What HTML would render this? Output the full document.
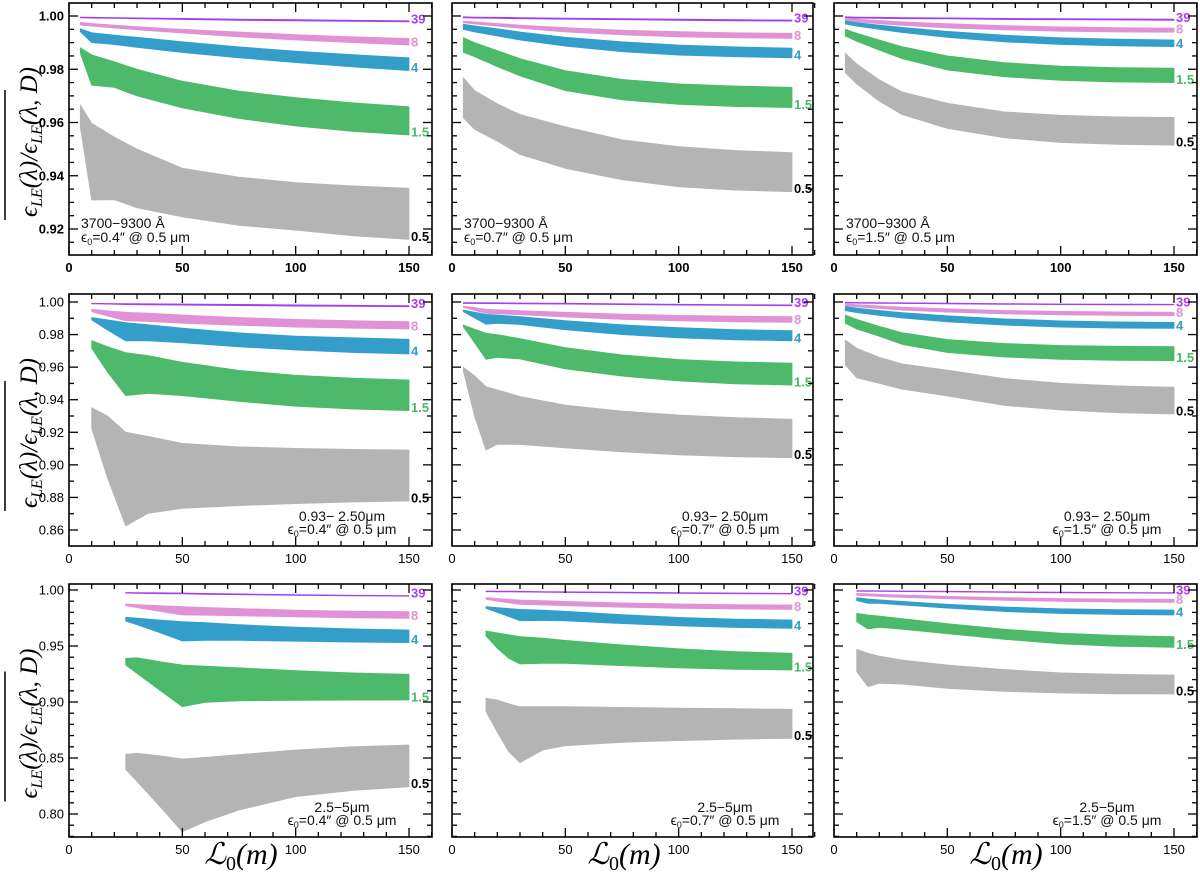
<!DOCTYPE html>
<html><head><meta charset="utf-8"><style>
html,body{margin:0;padding:0;background:#fff;}
svg{display:block;}
</style></head><body>
<svg id="fig" width="1200" height="879" viewBox="0 0 1200 879" xmlns="http://www.w3.org/2000/svg"></svg>
<script>
// ---- data: x positions (L0 in m) per panel, and band upper/lower values per series [39,8,4,1.5,0.5]
const seriesNames = ["39","8","4","1.5","0.5"];
const seriesColors = ["#a23ff0","#e192d6","#339ec9","#4cb96b","#b4b4b4"];
const labelColors = ["#a23ff0","#e192d6","#339ec9","#4cb96b","#000000"];

const p11x = [5,10,20,30,50,75,100,125,150];
const p11hi = [[0.9996,0.9995,0.9994,0.9993,0.9991,0.9988,0.9986,0.9984,0.9982],[0.9976,0.9972,0.9966,0.9960,0.9950,0.9940,0.9930,0.9922,0.9916],[0.9952,0.9937,0.9928,0.9920,0.9903,0.9884,0.9868,0.9855,0.9843],[0.9881,0.9854,0.9828,0.9800,0.9755,0.9718,0.9693,0.9674,0.9659],[0.9666,0.9597,0.9545,0.9500,0.9428,0.9395,0.9374,0.9362,0.9353]];
const p11lo = [[0.9993,0.9992,0.9991,0.9990,0.9987,0.9984,0.9982,0.9980,0.9978],[0.9966,0.9962,0.9955,0.9948,0.9936,0.9922,0.9910,0.9900,0.9891],[0.9941,0.9900,0.9893,0.9882,0.9863,0.9843,0.9825,0.9809,0.9795],[0.9860,0.9740,0.9732,0.9700,0.9655,0.9615,0.9587,0.9567,0.9553],[0.9584,0.9309,0.9310,0.9280,0.9246,0.9214,0.9196,0.9175,0.9161]];

const p12x = [5,10,20,30,50,75,100,125,150];
const p12hi = [[0.9997,0.9996,0.9995,0.9994,0.9992,0.9990,0.9988,0.9986,0.9985],[0.9981,0.9978,0.9972,0.9966,0.9956,0.9947,0.9941,0.9937,0.9935],[0.9969,0.9963,0.9952,0.9940,0.9920,0.9903,0.9891,0.9884,0.9879],[0.9919,0.9900,0.9870,0.9840,0.9795,0.9762,0.9745,0.9737,0.9732],[0.9768,0.9720,0.9670,0.9630,0.9584,0.9535,0.9509,0.9495,0.9487]];
const p12lo = [[0.9993,0.9992,0.9991,0.9990,0.9988,0.9986,0.9984,0.9982,0.9981],[0.9975,0.9970,0.9962,0.9954,0.9940,0.9929,0.9922,0.9918,0.9916],[0.9950,0.9940,0.9925,0.9910,0.9887,0.9866,0.9853,0.9847,0.9843],[0.9864,0.9847,0.9810,0.9775,0.9720,0.9685,0.9668,0.9660,0.9656],[0.9618,0.9574,0.9530,0.9480,0.9428,0.9385,0.9359,0.9346,0.9340]];

const p13x = [5,10,20,30,50,75,100,125,150];
const p13hi = [[0.9997,0.9996,0.9995,0.9994,0.9993,0.9991,0.9990,0.9989,0.9988],[0.9991,0.9988,0.9983,0.9978,0.9971,0.9964,0.9959,0.9956,0.9954],[0.9981,0.9975,0.9966,0.9957,0.9942,0.9928,0.9918,0.9913,0.9910],[0.9950,0.9935,0.9910,0.9885,0.9850,0.9825,0.9812,0.9806,0.9804],[0.9860,0.9820,0.9760,0.9715,0.9672,0.9640,0.9627,0.9621,0.9619]];
const p13lo = [[0.9993,0.9992,0.9991,0.9990,0.9989,0.9987,0.9986,0.9985,0.9984],[0.9982,0.9978,0.9971,0.9965,0.9955,0.9948,0.9943,0.9940,0.9939],[0.9970,0.9962,0.9950,0.9938,0.9920,0.9903,0.9893,0.9888,0.9885],[0.9925,0.9905,0.9872,0.9840,0.9797,0.9772,0.9758,0.9752,0.9750],[0.9787,0.9745,0.9680,0.9630,0.9578,0.9543,0.9525,0.9518,0.9515]];

const p21x = [10,17,25,35,50,75,100,125,150];
const p21hi = [[0.9992,0.9991,0.9990,0.9989,0.9988,0.9985,0.9982,0.9980,0.9977],[0.9955,0.9946,0.9937,0.9932,0.9920,0.9905,0.9893,0.9885,0.9879],[0.9904,0.9890,0.9873,0.9860,0.9840,0.9810,0.9790,0.9780,0.9771],[0.9763,0.9726,0.9689,0.9670,0.9630,0.9580,0.9550,0.9533,0.9521],[0.9351,0.9300,0.9200,0.9175,0.9132,0.9110,0.9101,0.9095,0.9091]];
const p21lo = [[0.9989,0.9987,0.9984,0.9983,0.9981,0.9978,0.9975,0.9973,0.9971],[0.9941,0.9914,0.9885,0.9880,0.9870,0.9857,0.9846,0.9839,0.9834],[0.9890,0.9828,0.9761,0.9762,0.9750,0.9725,0.9705,0.9690,0.9681],[0.9716,0.9570,0.9425,0.9439,0.9425,0.9390,0.9360,0.9343,0.9333],[0.9224,0.8920,0.8625,0.8703,0.8733,0.8750,0.8762,0.8772,0.8778]];

const p22x = [5,10,15,20,30,50,75,100,125,150];
const p22hi = [[0.9996,0.9996,0.9995,0.9995,0.9994,0.9992,0.9989,0.9986,0.9984,0.9982],[0.9975,0.9965,0.9955,0.9952,0.9947,0.9937,0.9926,0.9918,0.9913,0.9910],[0.9951,0.9937,0.9924,0.9920,0.9910,0.9885,0.9860,0.9842,0.9830,0.9824],[0.9859,0.9833,0.9808,0.9800,0.9775,0.9720,0.9675,0.9647,0.9632,0.9624],[0.9599,0.9546,0.9480,0.9460,0.9420,0.9367,0.9330,0.9306,0.9290,0.9280]];
const p22lo = [[0.9991,0.9991,0.9990,0.9990,0.9989,0.9987,0.9984,0.9981,0.9979,0.9977],[0.9967,0.9948,0.9930,0.9928,0.9922,0.9908,0.9893,0.9884,0.9878,0.9875],[0.9941,0.9902,0.9863,0.9869,0.9862,0.9830,0.9800,0.9780,0.9768,0.9762],[0.9848,0.9748,0.9648,0.9660,0.9650,0.9590,0.9545,0.9515,0.9498,0.9490],[0.9578,0.9296,0.9091,0.9126,0.9125,0.9105,0.9080,0.9062,0.9050,0.9044]];

const p23x = [5,10,20,30,50,75,100,125,150];
const p23hi = [[0.9998,0.9997,0.9996,0.9995,0.9993,0.9990,0.9988,0.9987,0.9986],[0.9988,0.9984,0.9976,0.9968,0.9958,0.9948,0.9942,0.9939,0.9937],[0.9971,0.9962,0.9948,0.9935,0.9915,0.9896,0.9884,0.9878,0.9875],[0.9920,0.9893,0.9850,0.9812,0.9770,0.9745,0.9733,0.9728,0.9726],[0.9767,0.9716,0.9660,0.9620,0.9582,0.9530,0.9501,0.9485,0.9476]];
const p23lo = [[0.9994,0.9993,0.9992,0.9991,0.9989,0.9986,0.9984,0.9983,0.9982],[0.9975,0.9970,0.9960,0.9950,0.9938,0.9927,0.9921,0.9918,0.9916],[0.9947,0.9935,0.9918,0.9902,0.9878,0.9858,0.9846,0.9840,0.9838],[0.9869,0.9834,0.9790,0.9740,0.9690,0.9662,0.9648,0.9642,0.9640],[0.9613,0.9535,0.9500,0.9465,0.9423,0.9365,0.9337,0.9320,0.9312]];

const p31x = [25,30,40,50,60,75,100,125,150];
const p31hi = [[0.9978,0.9977,0.9975,0.9973,0.9970,0.9965,0.9958,0.9953,0.9950],[0.9875,0.9870,0.9860,0.9851,0.9845,0.9835,0.9820,0.9811,0.9806],[0.9756,0.9748,0.9732,0.9717,0.9708,0.9690,0.9668,0.9653,0.9643],[0.9390,0.9395,0.9360,0.9330,0.9320,0.9305,0.9280,0.9260,0.9247],[0.8533,0.8542,0.8520,0.8491,0.8505,0.8530,0.8571,0.8600,0.8616]];
const p31lo = [[0.9972,0.9970,0.9967,0.9965,0.9962,0.9958,0.9952,0.9948,0.9945],[0.9860,0.9843,0.9810,0.9777,0.9775,0.9770,0.9760,0.9752,0.9747],[0.9723,0.9690,0.9620,0.9545,0.9550,0.9550,0.9543,0.9535,0.9530],[0.9330,0.9255,0.9105,0.8958,0.8997,0.9010,0.9015,0.9017,0.9018],[0.8399,0.8290,0.8070,0.7842,0.7930,0.8036,0.8155,0.8210,0.8244]];

const p32x = [15,20,25,30,40,50,75,100,125,150];
const p32hi = [[0.9991,0.9990,0.9989,0.9988,0.9986,0.9984,0.9980,0.9976,0.9973,0.9970],[0.9931,0.9924,0.9917,0.9911,0.9905,0.9898,0.9885,0.9876,0.9870,0.9866],[0.9851,0.9843,0.9835,0.9827,0.9820,0.9810,0.9780,0.9755,0.9740,0.9732],[0.9634,0.9617,0.9600,0.9583,0.9570,0.9550,0.9510,0.9475,0.9450,0.9435],[0.9033,0.9018,0.8985,0.8958,0.8958,0.8958,0.8952,0.8945,0.8940,0.8935]];
const p32lo = [[0.9985,0.9984,0.9983,0.9982,0.9980,0.9978,0.9974,0.9970,0.9967,0.9964],[0.9917,0.9900,0.9886,0.9872,0.9866,0.9860,0.9846,0.9836,0.9830,0.9827],[0.9836,0.9800,0.9763,0.9726,0.9728,0.9725,0.9700,0.9680,0.9665,0.9658],[0.9589,0.9480,0.9390,0.9339,0.9345,0.9345,0.9325,0.9305,0.9292,0.9286],[0.8914,0.8730,0.8556,0.8458,0.8571,0.8610,0.8640,0.8655,0.8668,0.8676]];

const p33x = [10,15,20,30,50,75,100,125,150];
const p33hi = [[0.9994,0.9993,0.9993,0.9991,0.9988,0.9984,0.9980,0.9978,0.9976],[0.9970,0.9966,0.9962,0.9955,0.9944,0.9932,0.9924,0.9919,0.9917],[0.9931,0.9920,0.9912,0.9898,0.9872,0.9848,0.9832,0.9825,0.9821],[0.9792,0.9777,0.9768,0.9745,0.9700,0.9650,0.9615,0.9595,0.9583],[0.9470,0.9435,0.9410,0.9375,0.9330,0.9290,0.9260,0.9247,0.9241]];
const p33lo = [[0.9989,0.9988,0.9988,0.9986,0.9983,0.9979,0.9975,0.9973,0.9971],[0.9952,0.9947,0.9942,0.9935,0.9922,0.9907,0.9898,0.9892,0.9890],[0.9905,0.9881,0.9880,0.9866,0.9838,0.9808,0.9790,0.9781,0.9777],[0.9717,0.9652,0.9667,0.9650,0.9610,0.9560,0.9520,0.9497,0.9488],[0.9271,0.9137,0.9167,0.9160,0.9122,0.9095,0.9080,0.9073,0.9071]];

const rowYTicks = [[0.92,0.94,0.96,0.98,1.00],[0.86,0.88,0.90,0.92,0.94,0.96,0.98,1.00],[0.80,0.85,0.90,0.95,1.00]];
const rowYMinor = [0.005,0.01,0.01];
const xTicks = [0,50,100,150];
const seeingLabels = ["0.4","0.7","1.5"];
const bandLabels = ["3700\u22129300 \u00c5","0.93\u2212  2.50\u03bcm","2.5\u22125\u03bcm"];

// ---- layout
const NS = "http://www.w3.org/2000/svg";
const svg = document.getElementById("fig");
const cols = [{l:69,r:432},{l:452,r:813},{l:834,r:1197}];
const rows = [{t:3,b:255,y1:16,ppu:2662.5},{t:294,b:546,y1:302,ppu:1628.6},{t:584,b:837,y1:590,ppu:1120}];
const XPPU = 340/150;
const panels = [
 [[p11x,p11hi,p11lo],[p12x,p12hi,p12lo],[p13x,p13hi,p13lo]],
 [[p21x,p21hi,p21lo],[p22x,p22hi,p22lo],[p23x,p23hi,p23lo]],
 [[p31x,p31hi,p31lo],[p32x,p32hi,p32lo],[p33x,p33hi,p33lo]]
];
function el(tag, attrs, parent){
  const e = document.createElementNS(NS, tag);
  for (const k in attrs) e.setAttribute(k, attrs[k]);
  (parent||svg).appendChild(e);
  return e;
}
for (let r=0;r<3;r++){
  const R = rows[r];
  const sy = v => R.y1 + (1-v)*R.ppu;
  const yMin = 1 - (R.b - R.y1)/R.ppu, yMax = 1 + (R.y1 - R.t)/R.ppu;
  for (let c=0;c<3;c++){
    const C = cols[c];
    const sx = v => C.l + v*XPPU;
    const g = el("g",{});
    
    
    const [xs, hi, lo] = panels[r][c];
    for (let s=0;s<5;s++){
      let d = "";
      for (let i=0;i<xs.length;i++) d += (i?"L":"M") + sx(xs[i]).toFixed(1)+","+sy(hi[s][i]).toFixed(1);
      for (let i=xs.length-1;i>=0;i--) d += "L" + sx(xs[i]).toFixed(1)+","+sy(lo[s][i]).toFixed(1);
      d += "Z";
      const p = el("path",{d:d, fill:seriesColors[s], stroke:seriesColors[s], "stroke-width":"0.8","stroke-linejoin":"round"}, g);
      
      
      const n = xs.length-1;
      const t = el("text",{x:C.l+342, y:(sy(lo[s][n])-3+4.5).toFixed(1), fill:labelColors[s], "font-family":"Liberation Sans, sans-serif", "font-size":"13", "font-weight":"bold"}, g);
      t.textContent = seriesNames[s];
      
      
    }
    // ticks
    const tk = el("g",{stroke:"#000","stroke-width":"1.3"}, g);
    
    
    for (let v=0; v<=160; v+=10){
      const x = sx(v), L = (v%50===0)?9:5;
      el("line",{x1:x,y1:R.b,x2:x,y2:R.b-L},tk);
      el("line",{x1:x,y1:R.t,x2:x,y2:R.t+L},tk);
    }
    const step = rowYMinor[r];
    for (let k=Math.ceil(yMin/step); k*step<=yMax+1e-9; k++){
      const v = k*step, y = sy(v);
      const major = rowYTicks[r].some(m=>Math.abs(m-v)<1e-6);
      const L = major?9:5;
      el("line",{x1:C.l,y1:y,x2:C.l+L,y2:y},tk);
      el("line",{x1:C.r,y1:y,x2:C.r-L,y2:y},tk);
    }
    const fr = el("rect",{x:C.l,y:R.t,width:C.r-C.l,height:R.b-R.t,fill:"none",stroke:"#000","stroke-width":"1.6"}, g);
    
    
    // x tick labels
    for (const v of xTicks){
      const t = el("text",{x:sx(v),y:R.b+17,"text-anchor":"middle","font-family":"Liberation Sans, sans-serif","font-size":"13","font-weight":r===0?"bold":"normal"}, g);
      t.textContent = v;
      
      
    }
    if (c===0){
      for (const v of rowYTicks[r]){
        const t = el("text",{x:C.l-5,y:sy(v)+4.5,"text-anchor":"end","font-family":"Liberation Sans, sans-serif","font-size":"13","font-weight":r===0?"bold":"normal"}, g);
        t.textContent = v.toFixed(2);
        
        
      }
    }
    // annotation
    const ann = el("g",{"font-family":"Liberation Sans, sans-serif","font-size":"14",fill:"#111"}, g);
    
    
    let ax, ay1, ay2, anc;
    if (r===0){ ax=C.l+12; ay1=228; ay2=242; anc="start"; }
    else { ax=C.l+273; anc="middle"; ay1 = r===1?521:812; ay2 = ay1+13; }
    const a1 = el("text",{x:ax,y:ay1,"text-anchor":anc}, ann);
    a1.textContent = bandLabels[r];
    const a2 = el("text",{x:ax,y:ay2,"text-anchor":anc}, ann);
    a2.innerHTML = '\u03f5<tspan font-size="9" dy="3">0</tspan><tspan dy="-3">=' + seeingLabels[c] + '\u2033 @ 0.5 \u03bcm</tspan>';
    if (r===2){
      const xt = el("text",{x:C.l+172,y:864,"text-anchor":"middle","font-family":"Liberation Serif, DejaVu Serif, serif","font-style":"italic","font-size":"30"});
      xt.innerHTML = '\u2112<tspan font-size="20" dy="6" font-style="normal">0</tspan><tspan dy="-6">(m)</tspan>';
      
      
    }
  }
  // y axis title
  const cy = (R.t+R.b)/2 + 13;
  const yt = el("text",{transform:"translate(37,"+cy+") rotate(-90)","text-anchor":"middle","font-family":"Liberation Serif, serif","font-style":"italic","font-size":"25"});
  yt.innerHTML = '\u03f5<tspan font-size="16" dy="5">LE</tspan><tspan dy="-5">(\u03bb)/\u03f5</tspan><tspan font-size="16" dy="5">LE</tspan><tspan dy="-5">(\u03bb, D)</tspan>';
  
  
  const ol = el("line",{x1:5,y1:cy-52,x2:5,y2:cy+78,stroke:"#000","stroke-width":"1.5"});
  
  
}
</script>
</body></html>
